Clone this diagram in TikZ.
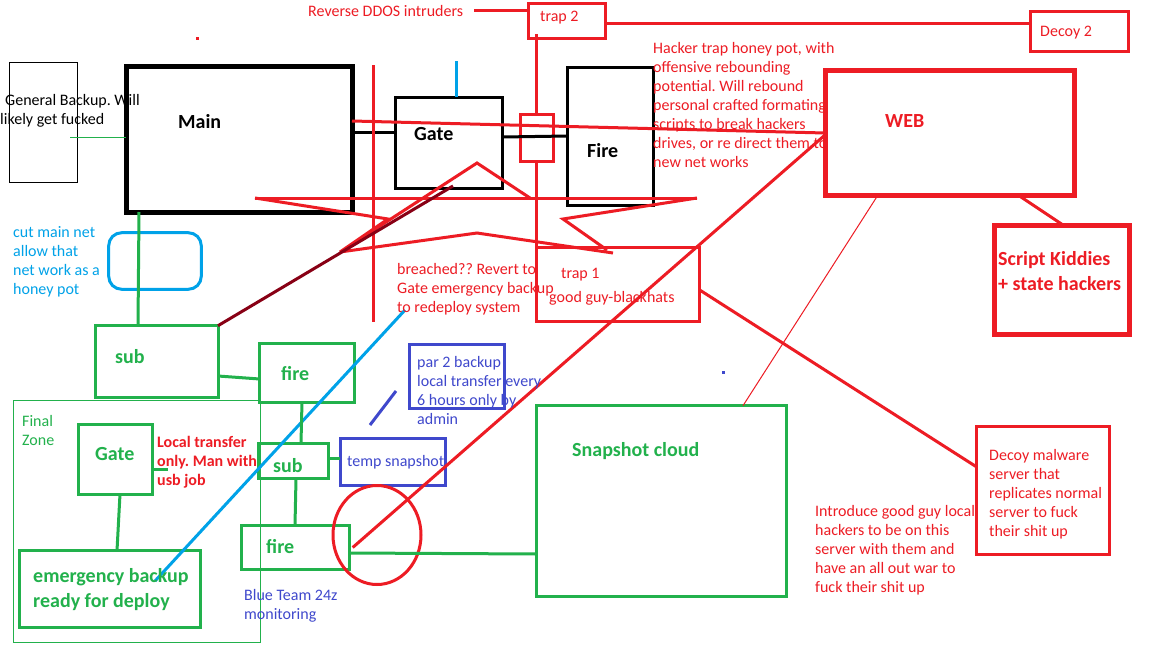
\documentclass[tikz,border=0pt]{standalone}
\usepackage{fontspec}
\setmainfont{Carlito}
\usetikzlibrary{shapes.geometric}
\definecolor{pred}{HTML}{ED1C24}
\definecolor{pgreen}{HTML}{22B14C}
\definecolor{pblue}{HTML}{00A2E8}
\definecolor{pindigo}{HTML}{3F48CC}
\definecolor{pdark}{HTML}{880015}
\frenchspacing
\tikzset{
  box/.style={draw, inner sep=0pt, outer sep=0pt, anchor=north west, line width=3pt},
  lbl/.style={inner sep=0pt, anchor=base west, font=\fontsize{16}{19}\selectfont},
  bigl/.style={inner sep=0pt, anchor=base west, font=\fontsize{20}{25}\selectfont\bfseries},
  para/.style={inner sep=0pt, anchor=north west, align=left, font=\fontsize{16}{19}\selectfont},
  bigpara/.style={inner sep=0pt, anchor=north west, align=left, font=\fontsize{20}{25}\selectfont\bfseries},
  ln/.style={line width=3pt},
}
\begin{document}
\begin{tikzpicture}[x=1pt,y=-1pt]
\fill[white] (0,0) rectangle (1152,648);
\useasboundingbox (0,0) rectangle (1152,648);

% ---------- boxes ----------
\node[box, black, line width=1pt, minimum width=68pt, minimum height=120pt] (gb) at (9,62) {};
\node[box, black, line width=5pt, minimum width=226pt, minimum height=145.5pt] (main) at (126,66.5) {};
\node[box, black, minimum width=107pt, minimum height=91pt] (gate) at (395,97) {};
\node[box, black, minimum width=85.5pt, minimum height=138.5pt] (fire) at (567.5,67) {};
\node[box, pred, minimum width=77pt, minimum height=35.5pt] (trap2) at (528.5,3) {};
\node[box, pred, minimum width=98pt, minimum height=39.8pt] (decoy2) at (1030,11.7) {};
\node[box, pred, minimum width=32.3pt, minimum height=46.6pt] (smallbox) at (520.7,114.7) {};
\node[box, pred, line width=5pt, minimum width=249pt, minimum height=124.3pt] (web) at (825,70.7) {};
\node[box, pred, line width=5pt, minimum width=134.5pt, minimum height=109pt] (sk) at (994.5,225) {};
\node[box, pred, minimum width=163pt, minimum height=74pt] (trap1) at (536.7,247.3) {};
\node[box, pred, minimum width=132.6pt, minimum height=128pt] (decoy) at (976.7,426) {};
\node[box, pblue, rounded corners=13pt, minimum width=92.6pt, minimum height=56.6pt] (rr) at (108.7,232.7) {};
\node[box, pgreen, minimum width=122.3pt, minimum height=71.3pt] (sub1) at (95.7,325.7) {};
\node[box, pgreen, minimum width=94.3pt, minimum height=58.3pt] (fire1) at (259.7,343.7) {};
\node[box, pgreen, line width=1pt, minimum width=247pt, minimum height=241.5pt] (fz) at (13,400.5) {};
\node[box, pgreen, minimum width=74pt, minimum height=69.7pt] (fgate) at (78.7,424.3) {};
\node[box, pgreen, minimum width=181.7pt, minimum height=77pt] (emerg) at (19,550.7) {};
\node[box, pgreen, minimum width=70pt, minimum height=35.7pt] (sub2) at (258.3,443) {};
\node[box, pgreen, minimum width=108.7pt, minimum height=44.4pt] (fire2) at (241,525.3) {};
\node[box, pgreen, minimum width=250.3pt, minimum height=190.6pt] (snap) at (536,405.7) {};
\node[box, pindigo, minimum width=94.3pt, minimum height=63.3pt] (par2) at (409.7,344.7) {};
\node[box, pindigo, minimum width=105.4pt, minimum height=47pt] (temp) at (340.3,438.7) {};
\node[draw, pred, line width=3pt, ellipse, inner sep=0pt, outer sep=0pt, minimum width=88pt, minimum height=99pt] (circ) at (377,535) {};

% ---------- free coordinates ----------
\coordinate (gbl) at (70,137);
\coordinate (rdl) at (474,10);
\coordinate (bt) at (456,61);
\coordinate (v1) at (373,65);
\coordinate (v2) at (373,322);
\coordinate (zA) at (255,198);
\coordinate (zB) at (388,219);
\coordinate (zC) at (340,252);
\coordinate (zD) at (477,163);
\coordinate (zE) at (530,198);
\coordinate (zF) at (697,198);
\coordinate (zG) at (563,219);
\coordinate (zH) at (607,250);
\coordinate (zI) at (477,233);
\coordinate (zJ) at (613,253);
\coordinate (dr) at (453,186);
\coordinate (lb1) at (405,310);
\coordinate (lb2) at (155,581);
\coordinate (db1) at (370,425);
\coordinate (db2) at (396,391);
\coordinate (fgs) at (168,469);

% ---------- connectors ----------
\draw[pgreen, line width=1pt] (gbl) -- (main.west |- gbl);
\draw[ln, black] (main.east |- 0,132) -- (gate.west |- 0,132);
\draw[ln, black] (gate.east |- 0,137) -- (fire.west |- 0,136);
\draw[ln, pblue] (bt) -- (bt |- gate.north);

\draw[ln, pred] (rdl) -- (trap2.west |- rdl);
\draw[ln, pred] (trap2.east |- 0,23) -- (decoy2.west |- 0,23);
\draw[ln, pred] (smallbox.north |- 0,34) -- (smallbox.north);
\draw[ln, pred] (smallbox.south) -- (smallbox.south |- trap1.north);
\draw[ln, pred] (v1) -- (v2);
\draw[ln, pred] (main.east |- 0,121) -- (web.west |- 0,133);
\draw[ln, pred] (zA) -- (zF);
\draw[ln, pred] (zA) -- (zB) -- (zC) -- (zD) -- (zE);
\draw[ln, pred] (zC) -- (zI) -- (zJ);
\draw[ln, pred] (zF) -- (zG) -- (zH);
\draw[ln, pdark] (sub1.north east) -- (dr);
\draw[ln, pred] (web.west |- 0,135) -- ([xshift=3pt]fire2.east);
\draw[pred, line width=1pt] (web.south -| 878,0) -- (snap.north -| 743,0);
\draw[ln, pred] (web.south -| 1018,0) -- (sk.north -| 1063,0);
\draw[ln, pred] (trap1.east |- 0,290) -- (decoy.west |- 0,467);

\draw[ln, pblue] (lb1) -- (lb2);
\draw[ln, pindigo] (db1) -- (db2);

\draw[ln, pgreen] (main.south -| 139,0) -- (sub1.north -| 138,0);
\draw[ln, pgreen] (sub1.east |- 0,376) -- (fire1.west |- 0,379);
\draw[ln, pgreen] (fire1.south -| 302,0) -- (sub2.north -| 301,0);
\draw[ln, pgreen] (fgate.east |- fgs) -- (fgs);
\draw[ln, pgreen] (fgate.south -| 120,0) -- (emerg.north -| 117,0);
\draw[ln, pgreen] (sub2.east |- 0,458) -- (temp.west |- 0,458);
\draw[ln, pgreen] (sub2.south -| 296,0) -- (fire2.north -| 295,0);
\draw[ln, pgreen] (fire2.east |- 0,553) -- (snap.west |- 0,554);

\fill[pred] (196,37) rectangle (199,40);
\fill[pindigo] (721.5,370.5) rectangle (724.5,373.5);

% ---------- texts ----------
\node[para, black] (tgb) at (0,91.7) {\strut\hspace*{5pt}General Backup. Will\\likely get fucked};
\node[bigl, black] (tmain) at (178,128) {Main};
\node[bigl, black] (tgate) at (414,140) {Gate};
\node[bigl, black] (tfire) at (587,157) {Fire};
\node[lbl, pred] (trev) at (308,16) {Reverse DDOS intruders};
\node[lbl, pred] (ttrap2) at (540,21) {trap 2};
\node[lbl, pred] (tdecoy2) at (1040,36) {Decoy 2};
\node[para, pred] (thack) at (653,39.7) {\strut Hacker trap honey pot, with\\offensive rebounding\\potential. Will rebound\\personal crafted formating\\scripts to break hackers\\drives, or re direct them to\\new net works};
\node[bigl, pred] (tweb) at (885,127) {WEB};
\node[bigpara, pred] (tsk) at (998,247.5) {\strut Script Kiddies\\+ state hackers};
\node[para, pblue] (tcut) at (13,223.7) {\strut cut main net\\allow that\\net work as a\\honey pot};
\node[para, pred] (tbreach) at (397,260.7) {\strut breached?? Revert to\\Gate emergency backup\\to redeploy system};
\node[lbl, pred] (ttrap1) at (561,278) {trap 1};
\node[lbl, pred] (tgood) at (549,302) {good guy-blackhats};
\node[para, pindigo] (tpar2) at (417,353.7) {\strut par 2 backup\\local transfer every\\6 hours only by\\admin};
\node[para, pgreen] (tfz) at (22,412.7) {\strut Final\\Zone};
\node[lbl, pindigo] (ttemp) at (347,466) {temp snapshot};
\node[para, pindigo] (tblue) at (244,586.7) {\strut Blue Team 24z\\monitoring};
\node[para, pred] (tintro) at (815,502.7) {\strut Introduce good guy local\\hackers to be on this\\server with them and\\have an all out war to\\fuck their shit up};
\node[para, pred] (tdecoy) at (989,446.7) {\strut Decoy malware\\server that\\replicates normal\\server to fuck\\their shit up};
\node[para, pred, font=\fontsize{16}{19}\selectfont\bfseries] (tlocal) at (157,433.7) {\strut Local transfer\\only. Man with\\usb job};
\node[bigl, pgreen] (tsub1) at (115,363) {sub};
\node[bigl, pgreen] (tfire1) at (281,380) {fire};
\node[bigl, pgreen] (tfgate) at (95,460) {Gate};
\node[bigpara, pgreen] (temerg) at (33,564.5) {\strut emergency backup\\ready for deploy};
\node[bigl, pgreen] (tsub2) at (273,472) {sub};
\node[bigl, pgreen] (tfire2) at (266,553) {fire};
\node[bigl, pgreen] (tsnap) at (572,456) {Snapshot cloud};
\end{tikzpicture}
\end{document}
